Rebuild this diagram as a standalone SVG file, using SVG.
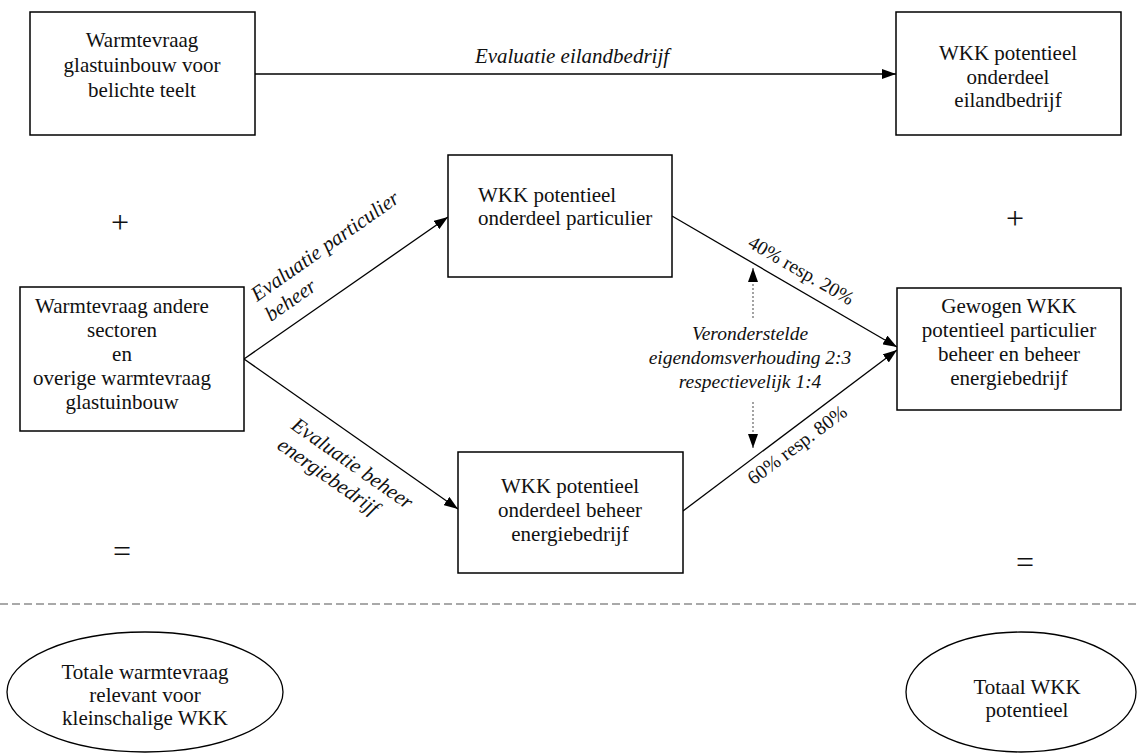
<svg xmlns="http://www.w3.org/2000/svg" width="1139" height="754" viewBox="0 0 1139 754">
<defs>
<marker id="ah" viewBox="0 0 14 10" refX="14" refY="5" markerWidth="14" markerHeight="10" markerUnits="userSpaceOnUse" orient="auto">
<path d="M0,0 L14,5 L0,10 Z" fill="#000"/>
</marker>
<style>
.box{fill:#fff;stroke:#000;stroke-width:1.5}
.t{font-size:21px;fill:#111}
.s{font-size:19.5px}
.c{text-anchor:middle}
.i{font-style:italic}
.ln{stroke:#000;stroke-width:1.3;fill:none}
.dot{stroke:#666;stroke-width:1.2;stroke-dasharray:2 2;fill:none}
.sym{font-size:32px;fill:#111;text-anchor:middle}
</style>
</defs>
<rect width="1139" height="754" fill="#fff"/>
<g font-family="'Liberation Serif', 'Times New Roman', 'DejaVu Serif', serif">
<g id="connectors">
<line class="ln" x1="255" y1="74" x2="896" y2="74" marker-end="url(#ah)"/>
<line class="ln" x1="244" y1="359" x2="448" y2="217" marker-end="url(#ah)"/>
<line class="ln" x1="244" y1="359" x2="458" y2="509" marker-end="url(#ah)"/>
<line class="ln" x1="672" y1="216" x2="897" y2="347" marker-end="url(#ah)"/>
<line class="ln" x1="683" y1="511" x2="897" y2="350" marker-end="url(#ah)"/>
<line class="dot" x1="753" y1="318" x2="753" y2="268" marker-end="url(#ah)"/>
<line class="dot" x1="753" y1="402" x2="753" y2="448" marker-end="url(#ah)"/>
<text class="t c i" x="572" y="63">Evaluatie eilandbedrijf</text>
<text class="t i" transform="translate(257,302) rotate(-35)">Evaluatie particulier</text>
<text class="t i" transform="translate(271,322) rotate(-35)">beheer</text>
<text class="t i" transform="translate(290,428) rotate(35)">Evaluatie beheer</text>
<text class="t i" transform="translate(276,448) rotate(35)">energiebedrijf</text>
<text class="t s c" transform="translate(798,276) rotate(30)">40% resp. 20%</text>
<text class="t s c" transform="translate(801,450) rotate(-36.8)">60% resp. 80%</text>
<text class="t s c i" x="750" y="340">Veronderstelde</text>
<text class="t s c i" x="750" y="364">eigendomsverhouding 2:3</text>
<text class="t s c i" x="750" y="388">respectievelijk 1:4</text>
</g>

<g id="n1">
<rect class="box" x="30" y="12" width="225" height="123"/>
<text class="t c" x="142" y="47">Warmtevraag</text>
<text class="t c" x="142" y="72">glastuinbouw voor</text>
<text class="t c" x="142" y="97">belichte teelt</text>
</g>

<g id="n2">
<rect class="box" x="896" y="12" width="225" height="123"/>
<text class="t c" x="1008" y="60">WKK potentieel</text>
<text class="t c" x="1008" y="84">onderdeel</text>
<text class="t c" x="1008" y="107">eilandbedrijf</text>
</g>

<g id="n3">
<rect class="box" x="20" y="287" width="224" height="144"/>
<text class="t c" x="122" y="313">Warmtevraag andere</text>
<text class="t c" x="122" y="337">sectoren</text>
<text class="t c" x="122" y="361">en</text>
<text class="t c" x="122" y="385">overige warmtevraag</text>
<text class="t c" x="122" y="409">glastuinbouw</text>
</g>

<g id="n4">
<rect class="box" x="448" y="155" width="224" height="122"/>
<text class="t" x="478" y="202">WKK potentieel</text>
<text class="t" x="478" y="225">onderdeel particulier</text>
</g>

<g id="n5">
<rect class="box" x="458" y="452" width="225" height="121"/>
<text class="t c" x="570" y="493">WKK potentieel</text>
<text class="t c" x="570" y="517">onderdeel beheer</text>
<text class="t c" x="570" y="541">energiebedrijf</text>
</g>

<g id="n6">
<rect class="box" x="897" y="288" width="224" height="122"/>
<text class="t c" x="1009" y="313">Gewogen WKK</text>
<text class="t c" x="1009" y="337">potentieel particulier</text>
<text class="t c" x="1009" y="361">beheer en beheer</text>
<text class="t c" x="1009" y="385">energiebedrijf</text>
</g>

<g id="symbols">
<text class="sym" x="120" y="233">+</text>
<text class="sym" x="1015" y="229">+</text>
<text class="sym" x="122" y="562">=</text>
<text class="sym" x="1025" y="573">=</text>
</g>

<line x1="0" y1="604" x2="1139" y2="604" stroke="#555" stroke-width="1.2" stroke-dasharray="8 4"/>

<g id="n7">
<ellipse cx="145" cy="692" rx="138" ry="60" fill="#fff" stroke="#000" stroke-width="1.3"/>
<text class="t c" x="145" y="679">Totale warmtevraag</text>
<text class="t c" x="145" y="702">relevant voor</text>
<text class="t c" x="145" y="725">kleinschalige WKK</text>
</g>

<g id="n8">
<ellipse cx="1021" cy="692" rx="115" ry="60" fill="#fff" stroke="#000" stroke-width="1.3"/>
<text class="t c" x="1027" y="694">Totaal WKK</text>
<text class="t c" x="1027" y="717">potentieel</text>
</g>
</g>
</svg>
